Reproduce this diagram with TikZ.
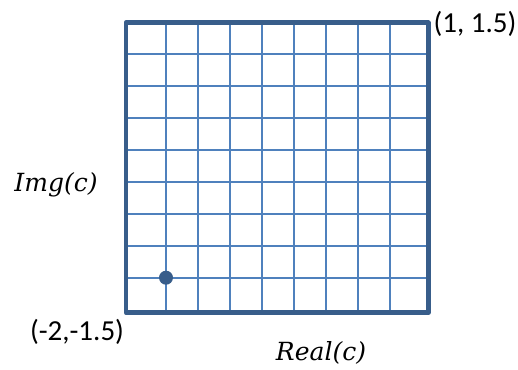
\documentclass[tikz,border=0pt]{standalone}
\usepackage{fontspec}
\setmainfont{Carlito}
\newfontfamily\mathlike{DejaVu Serif}
\definecolor{frameblue}{RGB}{56,93,138}
\definecolor{gridblue}{RGB}{79,129,189}
\begin{document}
\begin{tikzpicture}[x=1pt,y=-1pt,
  gridline/.style={draw=gridblue,line width=2pt},
  frameline/.style={draw=frameblue,line width=4.5pt,line join=round},
  lbl/.style={inner sep=0pt,font=\fontsize{29}{32}\selectfont},
  mathlbl/.style={inner sep=0pt,font=\mathlike\itshape\fontsize{25}{30}\selectfont}]
\useasboundingbox (0,0) rectangle (518,369);
% grid
\foreach \x in {165.7,198,230,262,293.7,326,358,390}
  \draw[gridline] (\x,22.7) -- (\x,312.7);
\foreach \y in {53.7,86,117.7,150,182,213.7,246,277.7}
  \draw[gridline] (124,\y) -- (428.3,\y);
% frame
\draw[frameline] (126,22.7) rectangle (428.3,312.7);
% point
\fill[frameblue] (166,277.7) circle (7);
% labels
\node[lbl] (tr) at (475,24) {(1, 1.5)};
\node[lbl] (bl) at (77,332) {(-2,-1.5)};
\node[mathlbl] (im) at (56,185) {Img(c)};
\node[mathlbl] (re) at (321,353) {Real(c)};
\end{tikzpicture}
\end{document}
